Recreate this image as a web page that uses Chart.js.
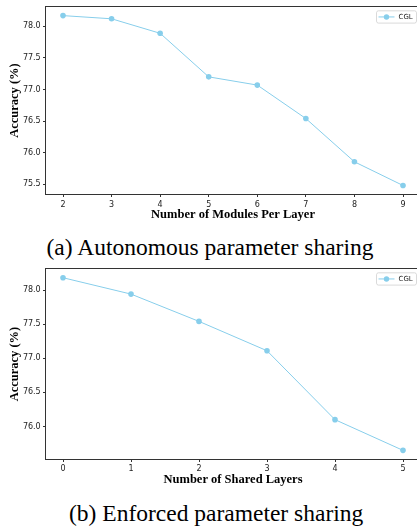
<!DOCTYPE html>
<html>
<head>
<meta charset="utf-8">
<script src="https://cdn.jsdelivr.net/npm/chart.js@4.4.0/dist/chart.umd.min.js"></script>
<style>
  html, body { margin: 0; padding: 0; background: #fff; }
  body { width: 417px; height: 527px; overflow: hidden; position: relative; }
  canvas { position: absolute; left: 0; }
  .cap { position: absolute; font-family: 'Liberation Serif', 'Times New Roman', serif; font-size: 23.5px; line-height: 23.5px; color: #000; white-space: nowrap; }
</style>
</head>
<body>
<canvas id="chartA" width="424" height="226" style="top:0px"></canvas>
<div class="cap" id="capA" style="left:46.5px; top:236.3px;">(a) Autonomous parameter sharing</div>
<canvas id="chartB" width="424" height="226" style="top:262px"></canvas>
<div class="cap" id="capB" style="left:69px; top:502px;">(b) Enforced parameter sharing</div>
<script>
// ---- Data ----
const modulesPerLayer = [2, 3, 4, 5, 6, 7, 8, 9];
const accuracyModules = [78.17, 78.12, 77.89, 77.20, 77.07, 76.54, 75.855, 75.48];
const yTicksModules = [75.5, 76.0, 76.5, 77.0, 77.5, 78.0];

const sharedLayers = [0, 1, 2, 3, 4, 5];
const accuracyShared = [78.18, 77.94, 77.54, 77.11, 76.10, 75.65];
const yTicksShared = [76.0, 76.5, 77.0, 77.5, 78.0];

const seriesLabel = 'CGL';
const lineColor = '#87CEEB';

const frameAndLegend = {
  id: 'frameAndLegend',
  afterDraw(chart) {
    const ctx = chart.ctx;
    const a = chart.chartArea;
    ctx.save();
    ctx.strokeStyle = '#333';
    ctx.lineWidth = 1;
    ctx.strokeRect(Math.round(a.left) - 0.5, Math.round(a.top) - 0.5, Math.round(a.right - a.left) + 1, Math.round(a.bottom - a.top) + 1);
    // legend
    const ds = chart.data.datasets[0];
    const w = 40, h = 12.3;
    const x0 = a.right - 3.5 - w, y0 = a.top + 3.7;
    ctx.fillStyle = 'rgba(255,255,255,0.8)';
    ctx.strokeStyle = '#d0d0d0';
    ctx.lineWidth = 0.8;
    ctx.beginPath();
    if (ctx.roundRect) ctx.roundRect(x0, y0, w, h, 2); else ctx.rect(x0, y0, w, h);
    ctx.fill(); ctx.stroke();
    const cy = y0 + h / 2;
    ctx.strokeStyle = ds.borderColor;
    ctx.lineWidth = 1;
    ctx.beginPath(); ctx.moveTo(x0 + 2, cy); ctx.lineTo(x0 + 18, cy); ctx.stroke();
    ctx.fillStyle = ds.borderColor;
    ctx.beginPath(); ctx.arc(x0 + 10, cy, 2.7, 0, Math.PI * 2); ctx.fill();
    ctx.fillStyle = '#222';
    ctx.font = '7px "DejaVu Sans"';
    ctx.textBaseline = 'middle';
    ctx.textAlign = 'left';
    ctx.fillText(ds.label, x0 + 22, cy + 0.3);
    ctx.restore();
  }
};

function makeChart(id, xs, ys, yTicks, cfg) {
  const points = xs.map((x, i) => ({ x: x, y: ys[i] }));
  return new Chart(document.getElementById(id), {
    type: 'line',
    data: { datasets: [{
      label: seriesLabel, data: points,
      borderColor: lineColor, backgroundColor: lineColor,
      pointBackgroundColor: lineColor, pointBorderColor: lineColor,
      borderWidth: 1, pointRadius: 2.8, pointBorderWidth: 0, tension: 0, fill: false
    }]},
    options: {
      responsive: false, animation: false, devicePixelRatio: 1,
      layout: { padding: { top: cfg.padTop, right: 4, left: 0, bottom: 0 } },
      plugins: { legend: { display: false }, tooltip: { enabled: false } },
      scales: {
        x: {
          type: 'linear', min: cfg.xMin, max: cfg.xMax, offset: false,
          afterBuildTicks: (s) => { s.ticks = xs.map(v => ({ value: v })); },
          afterFit: (s) => { s.height = cfg.xHeight; },
          grid: { drawOnChartArea: false, drawTicks: true, tickLength: 3, color: '#333' },
          border: { display: false },
          ticks: { font: { family: 'DejaVu Sans', size: 8 }, color: '#222', padding: cfg.xTickPad, maxRotation: 0, autoSkip: false, callback: (v) => String(v) },
          title: { display: true, text: cfg.xTitle, color: '#000',
            font: { family: 'Liberation Serif', weight: 'bold', size: 12.5, lineHeight: 1.2 },
            padding: { top: 0, bottom: cfg.xTitlePad } }
        },
        y: {
          type: 'linear', min: cfg.yMin, max: cfg.yMax,
          afterBuildTicks: (s) => { s.ticks = yTicks.map(v => ({ value: v })); },
          afterFit: (s) => { s.width = 46; },
          grid: { drawOnChartArea: false, drawTicks: true, tickLength: 3, color: '#333' },
          border: { display: false },
          ticks: { font: { family: 'DejaVu Sans', size: 8 }, color: '#222', padding: 2.3, callback: (v) => Number(v).toFixed(1) },
          title: { display: true, text: 'Accuracy (%)', color: '#000',
            font: { family: 'Liberation Serif', weight: 'bold', size: 12.5, lineHeight: 1.2 },
            padding: { top: 7.5, bottom: 0 } }
        }
      }
    },
    plugins: [frameAndLegend]
  });
}

makeChart('chartA', modulesPerLayer, accuracyModules, yTicksModules, {
  xMin: 1.65, xMax: 9.35, yMin: 75.345, yMax: 78.305,
  padTop: 5, xHeight: 32, xTickPad: 3, xTitlePad: 3.5,
  xTitle: 'Number of Modules Per Layer'
});
makeChart('chartB', sharedLayers, accuracyShared, yTicksShared, {
  xMin: -0.25, xMax: 5.25, yMin: 75.5235, yMax: 78.3065,
  padTop: 6, xHeight: 29, xTickPad: 2, xTitlePad: 1.2,
  xTitle: 'Number of Shared Layers'
});
</script>
</body>
</html>
